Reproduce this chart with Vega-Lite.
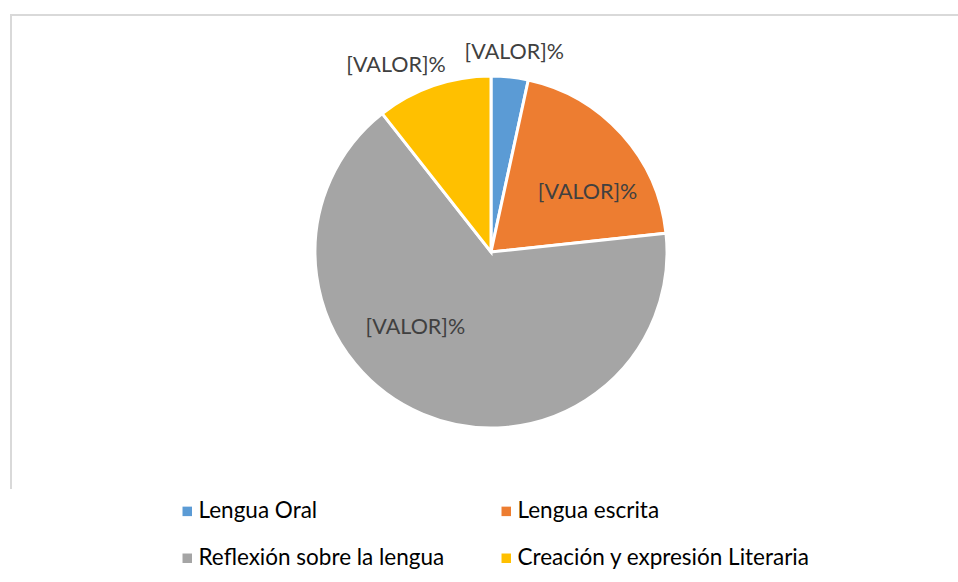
{
  "$schema": "https://vega.github.io/schema/vega-lite/v6.json",
  "width": 960,
  "height": 474,
  "autosize": "none",
  "padding": {"left": 11, "top": 15, "right": 0, "bottom": 93},
  "background": "white",
  "view": {"stroke": "#D9D9D9", "strokeWidth": 2, "strokeDash": [1434, 960], "fill": null},
  "config": {
    "font": "Lato"
  },
  "data": {
    "values": [
      {"categoria": "Lengua Oral", "valor": 3.4, "orden": 1, "etiqueta": "[VALOR]%"},
      {"categoria": "Lengua escrita", "valor": 19.9, "orden": 2, "etiqueta": "[VALOR]%"},
      {"categoria": "Reflexión sobre la lengua", "valor": 66.1, "orden": 3, "etiqueta": "[VALOR]%"},
      {"categoria": "Creación y expresión Literaria", "valor": 10.6, "orden": 4, "etiqueta": "[VALOR]%"}
    ]
  },
  "encoding": {
    "theta": {"field": "valor", "type": "quantitative", "stack": true},
    "order": {"field": "orden", "type": "quantitative"}
  },
  "layer": [
    {
      "mark": {"type": "arc", "outerRadius": 176, "stroke": "white", "strokeWidth": 3},
      "encoding": {
        "color": {
          "field": "categoria",
          "type": "nominal",
          "scale": {
            "domain": ["Lengua Oral", "Lengua escrita", "Reflexión sobre la lengua", "Creación y expresión Literaria"],
            "range": ["#5B9BD5", "#ED7D31", "#A5A5A5", "#FFC000"]
          },
          "legend": {
            "orient": "none",
            "direction": "horizontal",
            "legendX": 165,
            "legendY": 485,
            "columns": 2,
            "title": null,
            "symbolType": "square",
            "symbolSize": 90,
            "symbolStrokeWidth": 0,
            "labelFont": "Lato",
            "labelFontSize": 22.5,
            "labelColor": "#000000",
            "labelOffset": 0,
            "columnPadding": 50,
            "rowPadding": 24,
            "labelLimit": 0
          }
        }
      }
    },
    {
      "mark": {"type": "text", "radius": 200, "thetaOffset": 0.01, "fontSize": 21.5, "font": "Lato", "color": "#404040", "align": "center", "baseline": "middle"},
      "encoding": {
        "detail": {"field": "categoria"},
        "text": {"condition": {"test": "datum.categoria === 'Lengua Oral'", "field": "etiqueta"}, "value": ""}
      }
    },
    {
      "mark": {"type": "text", "radius": 113, "thetaOffset": 0.185, "fontSize": 21.5, "font": "Lato", "color": "#404040", "align": "center", "baseline": "middle"},
      "encoding": {
        "detail": {"field": "categoria"},
        "text": {"condition": {"test": "datum.categoria === 'Lengua escrita'", "field": "etiqueta"}, "value": ""}
      }
    },
    {
      "mark": {"type": "text", "radius": 107, "thetaOffset": 0.386, "fontSize": 21.5, "font": "Lato", "color": "#404040", "align": "center", "baseline": "middle"},
      "encoding": {
        "detail": {"field": "categoria"},
        "text": {"condition": {"test": "datum.categoria === 'Reflexión sobre la lengua'", "field": "etiqueta"}, "value": ""}
      }
    },
    {
      "mark": {"type": "text", "radius": 209, "thetaOffset": -0.139, "fontSize": 21.5, "font": "Lato", "color": "#404040", "align": "center", "baseline": "middle"},
      "encoding": {
        "detail": {"field": "categoria"},
        "text": {"condition": {"test": "datum.categoria === 'Creación y expresión Literaria'", "field": "etiqueta"}, "value": ""}
      }
    }
  ]
}
